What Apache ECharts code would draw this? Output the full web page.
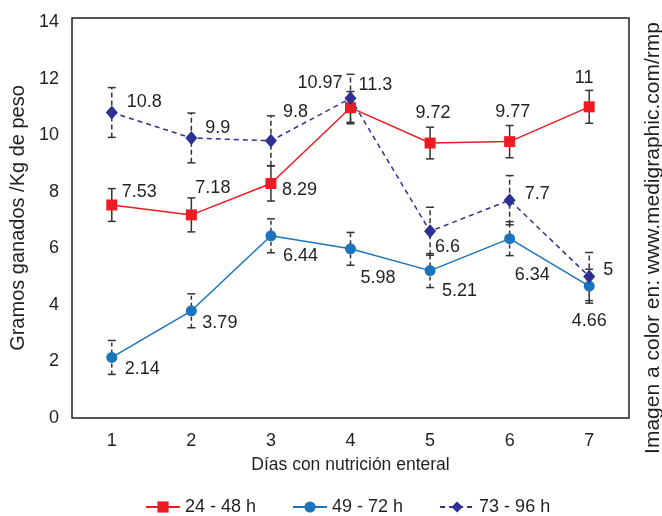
<!DOCTYPE html>
<html>
<head>
<meta charset="utf-8">
<script src="https://cdn.jsdelivr.net/npm/echarts@6/dist/echarts.min.js"></script>
<style>
html,body{margin:0;padding:0;background:#fff;}
#main{width:662px;height:516px;}
</style>
</head>
<body>
<div id="main"></div>
<script>
// datos
var dias = ['1', '2', '3', '4', '5', '6', '7'];
var yTicks = [0, 2, 4, 6, 8, 10, 12, 14];
var nombres = ['24 - 48 h', '49 - 72 h', '73 - 96 h'];
var g24_48 = [7.53, 7.18, 8.29, 10.97, 9.72, 9.77, 11];
var g49_72 = [2.14, 3.79, 6.44, 5.98, 5.21, 6.34, 4.66];
var g73_96 = [10.8, 9.9, 9.8, 11.3, 6.6, 7.7, 5];
var err24_48 = [0.58, 0.6, 0.62, 0.57, 0.56, 0.57, 0.58];
var err49_72 = [0.6, 0.6, 0.6, 0.58, 0.6, 0.6, 0.6];
var err73_96 = [0.88, 0.88, 0.88, 0.85, 0.85, 0.87, 0.85];

var font = "'Liberation Sans', Arial, sans-serif";
var txt = '#231f20';

// posicion de etiquetas: [align, dx, dy]
var pos24 = [['left', 10, -13], ['left', 4, -27], ['left', 11, 7], ['right', -8, -25], ['center', 3, -30], ['center', 3, -30], ['center', -5, -29]];
var pos49 = [['left', 13, 12], ['left', 11, 12], ['left', 12, 20], ['left', 10, 29], ['left', 12, 20], ['left', 5, 36], ['center', 0, 35]];
var pos73 = [['left', 15, -10], ['left', 14, -10], ['left', 12, -29], ['left', 8, -13], ['left', 5, 16], ['left', 15, -6], ['left', 14, -7]];

function puntos(vals, pos){
	return vals.map(function(v, i){
		return {
			value: v,
			label: {align: pos[i][0], offset: [pos[i][1], pos[i][2]]}
		};
	});
}

function barras(vals, errs){
	return vals.map(function(v, i){ return [i, v - errs[i], v + errs[i]]; });
}

function errorSerie(vals, errs, dash){
	return {
		type: 'custom',
		z: 1,
		silent: true,
		encode: {x: 0, y: [1, 2]},
		data: barras(vals, errs),
		renderItem: function(params, api){
			var x = api.value(0);
			var lo = api.coord([x, api.value(1)]);
			var hi = api.coord([x, api.value(2)]);
			var w = 4;
			var st = {stroke: '#333', lineWidth: 1.5};
			var stL = {stroke: '#333', lineWidth: 1.5, lineDash: dash};
			return {type: 'group', children: [
				{type: 'line', shape: {x1: lo[0], y1: lo[1], x2: hi[0], y2: hi[1]}, style: stL},
				{type: 'line', shape: {x1: hi[0] - w, y1: hi[1], x2: hi[0] + w, y2: hi[1]}, style: st},
				{type: 'line', shape: {x1: lo[0] - w, y1: lo[1], x2: lo[0] + w, y2: lo[1]}, style: st}
			]};
		}
	};
}

function lineaSerie(name, vals, pos, color, symbol, size, dash){
	return {
		name: name,
		type: 'line',
		z: 3,
		data: puntos(vals, pos),
		symbol: symbol,
		symbolSize: size,
		lineStyle: {color: color, width: 1.5, type: dash ? [5, 4] : 'solid'},
		itemStyle: {color: color},
		label: {
			show: true,
			position: 'inside',
			verticalAlign: 'middle',
			color: txt,
			fontFamily: font,
			fontSize: 18
		}
	};
}

var myChart = echarts.init(document.getElementById('main'));
var option = {
	animation: false,
	textStyle: {fontFamily: font, color: txt},
	grid: {left: 72, right: 33, top: 18, bottom: 98, show: true, borderColor: txt, borderWidth: 1.5, backgroundColor: 'transparent'},
	legend: {
		data: nombres,
		left: 140,
		top: 493,
		itemWidth: 34,
		itemHeight: 14,
		itemGap: 36,
		textStyle: {fontFamily: font, fontSize: 18, color: txt}
	},
	xAxis: {
		type: 'category',
		data: dias,
		boundaryGap: true,
		name: 'Días con nutrición enteral',
		nameLocation: 'middle',
		nameGap: 38,
		nameTextStyle: {fontFamily: font, fontSize: 17.5, color: txt},
		axisLine: {show: false},
		axisTick: {show: false},
		axisLabel: {margin: 14, fontSize: 18, color: txt, fontFamily: font}
	},
	yAxis: {
		type: 'value',
		min: 0,
		max: 14.14,
		interval: 2,
		name: 'Gramos ganados /Kg de peso',
		nameLocation: 'middle',
		nameGap: 33,
		nameTextStyle: {fontFamily: font, fontSize: 20, color: txt},
		axisLine: {show: false},
		axisTick: {show: false},
		splitLine: {show: false},
		axisLabel: {
			margin: 13,
			fontSize: 18,
			color: txt,
			fontFamily: font,
			formatter: function(v){ return yTicks.indexOf(v) >= 0 ? String(v) : ''; }
		}
	},
	graphic: [{
		type: 'text',
		x: 653,
		y: 238,
		rotation: Math.PI / 2,
		style: {
			text: 'Imagen a color en: www.medigraphic.com/rmp',
			fontFamily: font,
			fontSize: 21,
			fill: txt,
			align: 'center',
			verticalAlign: 'middle'
		}
	}],
	series: [
		errorSerie(g24_48, err24_48, null),
		errorSerie(g49_72, err49_72, [4, 3]),
		errorSerie(g73_96, err73_96, [5, 3]),
		lineaSerie(nombres[0], g24_48, pos24, '#ed1c24', 'rect', 11, false),
		lineaSerie(nombres[1], g49_72, pos49, '#1b75bc', 'circle', 11, false),
		lineaSerie(nombres[2], g73_96, pos73, '#2e3192', 'diamond', [12, 14], true)
	]
};
myChart.setOption(option);
</script>
</body>
</html>
